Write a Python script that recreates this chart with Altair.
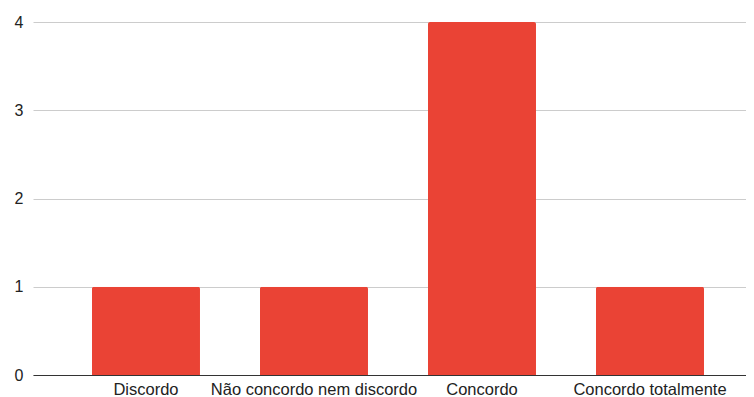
import altair as alt
import pandas as pd

categories = ["Discordo", "Não concordo nem discordo", "Concordo", "Concordo totalmente"]
counts = [1, 1, 4, 1]
y_ticks = [0, 1, 2, 3, 4]

df = pd.DataFrame({"categoria": categories, "contagem": counts})

FONT = "Liberation Sans"

chart = (
    alt.Chart(df)
    .mark_bar(color="#ea4335", cornerRadiusTopLeft=2, cornerRadiusTopRight=2)
    .encode(
        x=alt.X(
            "categoria:N",
            sort=categories,
            title=None,
            scale=alt.Scale(paddingInner=0.357, paddingOuter=0.3005, align=0.584),
            axis=alt.Axis(
                labelAngle=0,
                labelFont=FONT,
                labelFontSize=16.5,
                labelColor="#222222",
                labelPadding=6,
                ticks=False,
                domainColor="#333333",
                domainWidth=1,
                grid=False,
                labelLimit=0,
            ),
        ),
        y=alt.Y(
            "contagem:Q",
            title=None,
            scale=alt.Scale(domain=[0, 4], nice=False),
            axis=alt.Axis(
                values=y_ticks,
                format="d",
                ticks=False,
                domain=False,
                gridColor="#cccccc",
                gridWidth=1,
                labelPadding=10,
                labelFont=FONT,
                labelFontSize=16,
                labelColor="#222222",
            ),
        ),
    )
    .properties(
        width=713,
        height=353,
        autosize=alt.AutoSizeParams(type="none"),
        padding={"left": 25, "top": 14, "right": 0, "bottom": 22},
    )
    .configure_view(stroke=None)
)

chart.save("out.html", embed_options={"renderer": "svg", "actions": False})
